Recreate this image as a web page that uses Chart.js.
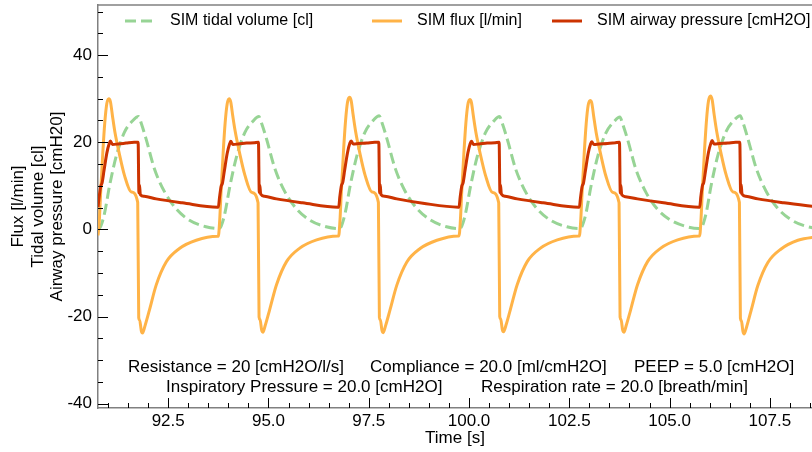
<!DOCTYPE html>
<html><head><meta charset="utf-8">
<script src="https://cdn.jsdelivr.net/npm/chart.js@4.4.1/dist/chart.umd.min.js"></script>
<style>html,body{margin:0;padding:0;background:#fff;}#wrap{width:812px;height:452px;}</style>
</head><body><div id="wrap"><canvas id="c" width="812" height="452"></canvas></div>
<script>
// ---------- data ----------
const cycleStarts = [90.75, 93.75, 96.75, 99.75, 102.75, 105.75];

const fluxPhase = [0, 0.03, 0.07, 0.12, 0.17, 0.22, 0.27, 0.31, 0.36, 0.42, 0.54, 0.66, 0.83, 0.99, 1.015, 1.04, 1.08, 1.11, 1.17, 1.28, 1.45, 1.7, 2.03, 2.45, 2.98];
const fluxCycles = [
  [-1.4, 1.6, 9.1, 17.6, 24.6, 28.9, 30.0, 29.3, 26.1, 22.4, 17.0, 12.4, 8.6, 6.2, -20.3, -20.9, -23.3, -23.8, -22.2, -18.6, -12.8, -7.5, -4.4, -2.5, -1.6],
  [-1.6, 1.5, 9.0, 17.5, 24.5, 28.8, 30.0, 29.2, 26.0, 22.5, 17.1, 12.5, 8.5, 6.1, -20.1, -20.7, -23.1, -23.6, -22.0, -18.4, -12.7, -7.4, -4.3, -2.4, -1.5],
  [-1.5, 1.7, 9.3, 17.8, 24.8, 29.2, 30.3, 29.6, 26.3, 22.6, 17.0, 12.4, 8.6, 6.2, -20.2, -20.8, -23.2, -23.7, -22.1, -18.5, -12.8, -7.5, -4.4, -2.5, -1.5],
  [-1.5, 1.4, 8.9, 17.3, 24.3, 28.6, 29.8, 29.1, 25.9, 22.3, 16.9, 12.4, 8.5, 6.1, -20.0, -20.6, -23.0, -23.5, -22.0, -18.4, -12.7, -7.4, -4.3, -2.4, -1.5],
  [-1.5, 1.4, 8.8, 17.2, 24.2, 28.5, 29.6, 29.0, 25.8, 22.2, 16.9, 12.3, 8.5, 6.1, -20.1, -20.7, -23.1, -23.6, -22.0, -18.4, -12.7, -7.4, -4.3, -2.4, -1.5],
  [-1.5, 1.8, 9.5, 18.0, 25.1, 29.5, 30.6, 29.8, 26.4, 22.7, 17.1, 12.5, 8.6, 6.2, -20.4, -21.0, -23.5, -24.0, -22.4, -18.7, -12.9, -7.6, -4.5, -2.5, -1.6]
];

const pressurePhase = [0, 0.03, 0.07, 0.10, 0.15, 0.22, 0.28, 0.31, 0.36, 0.5, 0.7, 0.9, 1.0, 1.02, 1.035, 1.055, 1.15, 1.45, 2.1, 2.98];
const pressureCycles = [
  [5.1, 7.5, 10.0, 10.6, 13.5, 17.5, 19.7, 20.3, 19.5, 19.6, 19.8, 20.0, 20.0, 8.4, 10.2, 8.0, 7.6, 7.0, 6.1, 5.1],
  [5.1, 7.4, 9.9, 10.5, 13.4, 17.4, 19.6, 20.2, 19.5, 19.6, 19.8, 19.9, 20.0, 8.5, 10.1, 8.1, 7.6, 7.0, 6.1, 5.1],
  [5.1, 7.6, 10.1, 10.7, 13.6, 17.6, 19.8, 20.3, 19.6, 19.7, 19.8, 20.0, 20.0, 8.4, 10.3, 8.0, 7.6, 7.0, 6.0, 5.1],
  [5.1, 7.5, 10.0, 10.6, 13.5, 17.5, 19.7, 20.2, 19.5, 19.6, 19.8, 19.9, 20.0, 8.5, 10.2, 8.1, 7.6, 7.0, 6.1, 5.1],
  [5.1, 7.4, 9.9, 10.5, 13.4, 17.4, 19.6, 20.1, 19.5, 19.6, 19.7, 19.9, 20.0, 8.4, 10.1, 8.0, 7.5, 7.0, 6.1, 5.1],
  [5.1, 7.6, 10.1, 10.7, 13.7, 17.7, 19.8, 20.4, 19.6, 19.7, 19.8, 20.0, 20.0, 8.5, 10.3, 8.1, 7.6, 7.0, 6.1, 5.1]
];

const volumePhase = [0, 0.05, 0.1, 0.17, 0.29, 0.46, 0.66, 0.87, 1.01, 1.08, 1.2, 1.41, 1.66, 1.95, 2.28, 2.69, 2.98];
const volumeCycles = [
  [0.2, 0.4, 1.5, 4.0, 10.1, 17.0, 22.3, 25.0, 25.9, 24.3, 20.7, 13.8, 8.6, 4.7, 2.1, 0.6, 0.2],
  [0.2, 0.4, 1.5, 4.0, 10.0, 16.9, 22.2, 24.9, 25.9, 24.3, 20.8, 13.9, 8.6, 4.7, 2.1, 0.6, 0.2],
  [0.2, 0.4, 1.6, 4.1, 10.2, 17.1, 22.4, 25.1, 26.1, 24.5, 20.9, 14.0, 8.7, 4.8, 2.2, 0.6, 0.2],
  [0.2, 0.4, 1.5, 4.0, 10.0, 16.9, 22.2, 24.9, 25.9, 24.3, 20.8, 13.9, 8.6, 4.7, 2.1, 0.6, 0.2],
  [0.2, 0.4, 1.5, 3.9, 9.9, 16.8, 22.1, 24.8, 25.8, 24.2, 20.7, 13.8, 8.5, 4.6, 2.1, 0.6, 0.2],
  [0.2, 0.4, 1.6, 4.1, 10.3, 17.2, 22.5, 25.2, 26.1, 24.5, 20.9, 14.0, 8.7, 4.8, 2.2, 0.6, 0.2]
];

const seriesLabels = ['SIM tidal volume [cl]', 'SIM flux [l/min]', 'SIM airway pressure [cmH2O]'];
const xTickValues = [92.5, 95.0, 97.5, 100.0, 102.5, 105.0, 107.5];
const yTickValues = [-40, -20, 0, 20, 40];
const xTitle = 'Time [s]';
const yTitleLines = ['Flux [l/min]', 'Tidal volume [cl]', 'Airway pressure [cmH20]'];
const noteLine1 = ['Resistance = 20 [cmH2O/l/s]', 'Compliance = 20.0 [ml/cmH2O]', 'PEEP = 5.0 [cmH2O]'];
const noteLine2 = ['Inspiratory Pressure = 20.0 [cmH2O]', 'Respiration rate = 20.0 [breath/min]'];

// ---------- styling ----------
const GREEN = '#97d495', ORANGE = '#ffb347', RED = '#cc3300';
const FONT = '"Liberation Sans", Arial, sans-serif';
const X_MIN = 90.75, X_MAX = 108.55, Y_MIN = -41, Y_MAX = 51.5;

function buildPoints(phase, cycles) {
  const pts = [];
  cycles.forEach((vals, k) => {
    vals.forEach((v, i) => pts.push({ x: cycleStarts[k] + phase[i], y: v }));
  });
  return pts;
}

const decor = {
  id: 'decor',
  afterDraw(chart) {
    const ctx = chart.ctx, a = chart.chartArea;
    const xs = chart.scales.x, ys = chart.scales.y;
    ctx.save();
    // top spine
    ctx.strokeStyle = '#808080'; ctx.lineWidth = 1.5;
    ctx.beginPath(); ctx.moveTo(a.left, a.top); ctx.lineTo(a.right, a.top); ctx.stroke();
    // ticks (inward)
    ctx.strokeStyle = '#000'; ctx.lineWidth = 1;
    ctx.beginPath();
    for (let v = Math.ceil(X_MIN / 0.5) * 0.5; v <= X_MAX; v += 0.5) {
      const major = xTickValues.some(t => Math.abs(t - v) < 1e-6);
      const px = Math.round(xs.getPixelForValue(v)) + 0.5;
      ctx.moveTo(px, a.bottom); ctx.lineTo(px, a.bottom - (major ? 10 : 5));
    }
    for (let v = Math.ceil(Y_MIN / 5) * 5; v <= Y_MAX; v += 5) {
      const major = yTickValues.includes(v);
      const py = Math.round(ys.getPixelForValue(v)) + 0.5;
      ctx.moveTo(a.left, py); ctx.lineTo(a.left + (major ? 10 : 5), py);
    }
    ctx.stroke();
    // axis titles
    ctx.fillStyle = '#000';
    ctx.font = '17px ' + FONT;
    ctx.textAlign = 'center'; ctx.textBaseline = 'middle';
    ctx.fillText(xTitle, (a.left + a.right) / 2, 438);
    const yc = (a.top + a.bottom) / 2;
    const lineX = [18, 38, 57];
    yTitleLines.forEach((t, i) => {
      ctx.save(); ctx.translate(lineX[i], yc); ctx.rotate(-Math.PI / 2);
      ctx.fillText(t, 0, 0); ctx.restore();
    });
    // notes
    ctx.textAlign = 'left';
    const n1x = [128, 370, 634], n2x = [166, 481];
    noteLine1.forEach((t, i) => ctx.fillText(t, n1x[i], 367));
    noteLine2.forEach((t, i) => ctx.fillText(t, n2x[i], 387));
    // legend
    ctx.font = '16px ' + FONT;
    const ly = 21;
    const hx = [125, 372, 552];
    const styles = [[GREEN, [11, 5]], [ORANGE, []], [RED, []]];
    seriesLabels.forEach((t, i) => {
      ctx.strokeStyle = styles[i][0]; ctx.lineWidth = 3; ctx.setLineDash(styles[i][1]);
      ctx.beginPath(); ctx.moveTo(hx[i], ly); ctx.lineTo(hx[i] + 30, ly); ctx.stroke();
      ctx.setLineDash([]);
      ctx.fillText(t, hx[i] + 45, ly);
    });
    ctx.restore();
  }
};

const tickFont = { family: FONT, size: 17 };
new Chart(document.getElementById('c').getContext('2d'), {
  type: 'line',
  data: {
    datasets: [
      { label: seriesLabels[0], data: buildPoints(volumePhase, volumeCycles), borderColor: GREEN, borderWidth: 3, borderDash: [11, 5], pointRadius: 0, cubicInterpolationMode: 'monotone', fill: false, order: 3 },
      { label: seriesLabels[1], data: buildPoints(fluxPhase, fluxCycles), borderColor: ORANGE, borderWidth: 3, pointRadius: 0, cubicInterpolationMode: 'monotone', fill: false, order: 2 },
      { label: seriesLabels[2], data: buildPoints(pressurePhase, pressureCycles), borderColor: RED, borderWidth: 3, pointRadius: 0, cubicInterpolationMode: 'monotone', fill: false, order: 1 }
    ]
  },
  options: {
    responsive: false, animation: false, devicePixelRatio: 1,
    layout: { padding: { top: 5, right: 0, left: 0, bottom: 0 } },
    plugins: { legend: { display: false }, tooltip: { enabled: false } },
    scales: {
      x: {
        type: 'linear', min: X_MIN, max: X_MAX,
        afterBuildTicks: s => { s.ticks = xTickValues.map(v => ({ value: v })); },
        afterFit: s => { s.height = 44; s.paddingLeft = 0; s.paddingRight = 0; },
        grid: { display: false, drawTicks: false },
        border: { display: true, color: '#808080', width: 1.5 },
        ticks: { padding: 3, color: '#000', font: tickFont, maxRotation: 0, autoSkip: false, callback: v => Number(v).toFixed(1) }
      },
      y: {
        type: 'linear', min: Y_MIN, max: Y_MAX,
        afterBuildTicks: s => { s.ticks = yTickValues.map(v => ({ value: v })); },
        afterFit: s => { s.width = 98; s.paddingTop = 0; s.paddingBottom = 0; },
        grid: { display: false, drawTicks: false },
        border: { display: true, color: '#808080', width: 1.5 },
        ticks: { padding: 6, color: '#000', font: tickFont, autoSkip: false, callback: v => String(v) }
      }
    }
  },
  plugins: [decor]
});
</script></body></html>
